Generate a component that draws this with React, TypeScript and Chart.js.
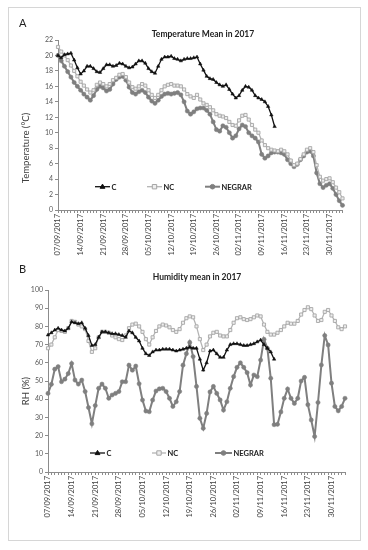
import React, { useEffect, useRef } from "react";
import { Chart, registerables } from "chart.js";
Chart.register(...registerables);

const dates: string[] = [
  "07/09/2017","08/09/2017","09/09/2017","10/09/2017","11/09/2017","12/09/2017","13/09/2017","14/09/2017","15/09/2017","16/09/2017","17/09/2017","18/09/2017","19/09/2017","20/09/2017","21/09/2017","22/09/2017","23/09/2017","24/09/2017","25/09/2017","26/09/2017","27/09/2017","28/09/2017","29/09/2017","30/09/2017",
  "01/10/2017","02/10/2017","03/10/2017","04/10/2017","05/10/2017","06/10/2017","07/10/2017","08/10/2017","09/10/2017","10/10/2017","11/10/2017","12/10/2017","13/10/2017","14/10/2017","15/10/2017","16/10/2017","17/10/2017","18/10/2017","19/10/2017","20/10/2017","21/10/2017","22/10/2017","23/10/2017","24/10/2017","25/10/2017","26/10/2017","27/10/2017","28/10/2017","29/10/2017","30/10/2017","31/10/2017",
  "01/11/2017","02/11/2017","03/11/2017","04/11/2017","05/11/2017","06/11/2017","07/11/2017","08/11/2017","09/11/2017","10/11/2017","11/11/2017","12/11/2017","13/11/2017","14/11/2017","15/11/2017","16/11/2017","17/11/2017","18/11/2017","19/11/2017","20/11/2017","21/11/2017","22/11/2017","23/11/2017","24/11/2017","25/11/2017","26/11/2017","27/11/2017","28/11/2017","29/11/2017","30/11/2017",
  "01/12/2017","02/12/2017","03/12/2017","04/12/2017",
];

const tickLabels: string[] = [
  "07/09/2017","14/09/2017","21/09/2017","28/09/2017","05/10/2017","12/10/2017","19/10/2017",
  "26/10/2017","02/11/2017","09/11/2017","16/11/2017","23/11/2017","30/11/2017",
];

const seriesNames = ["C", "NC", "NEGRAR"];

const tempC: number[] = [
  20.0,19.7,20.1,20.2,20.3,19.4,18.4,17.6,18.0,18.6,18.6,18.3,17.9,17.8,18.3,18.8,18.8,18.6,18.7,19.0,
  18.9,18.6,18.4,18.5,18.9,19.3,19.3,19.0,18.3,17.9,17.7,18.6,19.5,19.8,19.8,19.9,19.6,19.5,19.3,19.5,
  19.6,19.6,19.7,19.8,18.9,18.1,17.3,17.0,16.9,16.5,16.2,16.0,16.2,15.6,15.0,14.5,14.8,15.5,16.0,15.9,
  15.5,14.8,14.5,14.3,14.0,13.4,12.3,10.8,
];
const tempNC: number[] = [
  21.1,20.5,20.0,19.4,18.7,18.0,17.3,16.6,16.1,15.6,15.2,15.5,16.2,16.5,16.3,16.0,16.3,16.8,17.1,17.5,
  17.6,17.2,16.5,15.9,15.7,16.0,16.3,16.1,15.5,14.9,14.5,14.9,15.5,16.0,16.2,16.3,16.1,16.1,16.0,15.6,
  15.0,14.7,14.5,14.9,14.3,13.8,13.6,13.3,12.9,12.4,12.2,12.1,11.9,11.4,11.0,10.9,11.6,12.2,12.3,11.7,
  11.0,10.4,10.0,9.0,8.4,8.0,7.8,7.7,7.6,7.8,7.6,7.2,6.4,5.8,6.0,6.6,7.2,7.8,8.0,7.5,
  5.8,4.3,3.8,4.0,4.1,3.6,2.9,2.3,1.5,
];
const tempNEGRAR: number[] = [
  20.0,19.3,18.6,17.9,17.2,16.5,16.0,15.5,15.0,14.6,14.2,14.8,15.6,16.0,15.8,15.4,15.6,16.3,16.9,17.2,
  17.3,16.8,15.9,15.2,15.0,15.3,15.5,15.2,14.6,14.1,13.8,14.2,14.7,15.0,15.1,15.0,15.1,15.2,14.9,14.0,
  12.8,12.4,12.7,13.1,13.2,13.2,12.9,12.4,11.4,10.4,10.2,10.9,10.7,10.0,9.3,9.6,10.5,11.0,10.8,10.0,
  9.6,9.3,8.8,7.2,6.7,7.0,7.4,7.5,7.5,7.4,7.2,6.5,6.0,5.6,5.9,6.5,7.0,7.5,7.6,7.0,
  4.8,3.4,2.9,3.2,3.4,2.8,2.0,1.2,0.6,
];

const rhC: number[] = [
  75.3,76.5,78,79,78,77.5,79,82.5,82,81.5,82,79,75,69.5,70,74,77,77,76.5,76,
  76,75.5,75,74,77.5,76.5,74,72,68,65,64,66,67,67,67.5,67.5,67.5,67,66.5,67,
  67.5,68,68.5,68,68,62,56,60,66.5,67,65,63,63,67,70,70.5,70.5,70,69.5,69.5,
  70,70.5,71.5,72.5,70,68,66,62,
];
const rhNC: number[] = [
  68,70,74,78,77.5,77,79,83,82.5,81,80,78.5,72,66,68,74,77,77,76.5,75,
  74,73,72.5,75,79,81,81.5,80,77,73,70,74,77.5,80,81,80.5,79.5,78,77,78.5,
  82,84.5,85.5,85,80,73,67,70,74.5,76.5,77,75,74.5,74.5,78,82,84.5,85,84,83.5,
  84,85,86,85.5,81,77,75.5,75.5,76.5,78,80,82,81.5,81.5,83,86.5,89,90.5,89.5,86,
  83,83.5,88,89,86,83,79.5,78.5,80,
];
const rhNEGRAR: number[] = [
  43.2,48.2,56.5,57.9,49.6,51,54.1,59.6,50.5,48.3,50.5,44.2,35.4,26.5,36.5,46,48.3,46,40.5,42.3,
  43.2,44.2,49.6,49.6,58.7,55.9,58.2,48.5,39.5,33.5,33.1,39.5,44.5,45.7,46,44.2,40.5,36,38.6,44.2,
  58.7,65,71.2,63.4,47,29.5,24,32.2,44,47,43.2,39.6,34,38.6,46,52.4,57.5,60,57.5,54.6,
  47.8,53.3,52.4,61.5,72.9,68,51.5,26,26.2,33,40.5,45.6,40.5,37.7,40.5,50,52,37,28.6,19.5,
  38.2,58.8,75,69.8,48.8,36,33.6,36,40.5,
];

const FONT = "Lato, 'Liberation Sans', Arial, sans-serif";

const legendPlugin = {
  id: "inlineLegend",
  afterDraw(chart: any, _args: any, opts: any) {
    const ctx = chart.ctx as CanvasRenderingContext2D;
    const items = opts.items || [];
    ctx.save();
    items.forEach((it: any) => {
      const ds = chart.data.datasets[it.index];
      ctx.strokeStyle = ds.borderColor;
      ctx.lineWidth = ds.borderWidth;
      ctx.beginPath();
      ctx.moveTo(it.x, opts.y);
      ctx.lineTo(it.x + it.w, opts.y);
      ctx.stroke();
      const cx = it.x + it.w / 2;
      const cy = opts.y;
      ctx.fillStyle = ds.pointBackgroundColor;
      ctx.strokeStyle = ds.pointBorderColor;
      ctx.lineWidth = 1;
      ctx.beginPath();
      if (ds.pointStyle === "triangle") {
        ctx.moveTo(cx, cy - 2.6);
        ctx.lineTo(cx + 2.4, cy + 1.6);
        ctx.lineTo(cx - 2.4, cy + 1.6);
        ctx.closePath();
      } else if (ds.pointStyle === "rect") {
        ctx.rect(cx - 2.2, cy - 2.2, 4.4, 4.4);
      } else {
        ctx.arc(cx, cy, 2.3, 0, Math.PI * 2);
      }
      ctx.fill();
      ctx.stroke();
      ctx.fillStyle = "#222";
      ctx.font = `bold 7.5px ${FONT}`;
      ctx.textBaseline = "middle";
      ctx.textAlign = "left";
      ctx.fillText(ds.label, it.x + it.w + 1.5, cy + 0.5);
    });
    ctx.restore();
  },
};

function makeDatasets(c: number[], nc: number[], ng: number[]) {
  return [
    {
      label: seriesNames[0],
      data: c,
      borderColor: "#111111",
      borderWidth: 1.3,
      pointStyle: "triangle",
      pointRadius: 2,
      pointBackgroundColor: "#111111",
      pointBorderColor: "#111111",
      pointBorderWidth: 0.5,
      tension: 0,
    },
    {
      label: seriesNames[1],
      data: nc,
      borderColor: "#b4b4b4",
      borderWidth: 1.3,
      pointStyle: "rect",
      pointRadius: 2.2,
      pointBackgroundColor: "#eeeeee",
      pointBorderColor: "#a6a6a6",
      pointBorderWidth: 0.9,
      tension: 0,
    },
    {
      label: seriesNames[2],
      data: ng,
      borderColor: "#7f7f7f",
      borderWidth: 2,
      pointStyle: "circle",
      pointRadius: 2.1,
      pointBackgroundColor: "#7f7f7f",
      pointBorderColor: "#7f7f7f",
      pointBorderWidth: 0.5,
      tension: 0,
    },
  ];
}

function makeConfig(p: {
  datasets: any[];
  yMax: number;
  yStep: number;
  yWidth: number;
  xHeight: number;
  padding: any;
  legendY: number;
  legendItems: any[];
}): any {
  return {
    type: "line",
    data: { labels: dates, datasets: p.datasets },
    plugins: [legendPlugin],
    options: {
      responsive: false,
      animation: false,
      devicePixelRatio: 1,
      layout: { padding: p.padding },
      plugins: {
        legend: { display: false },
        title: { display: false },
        tooltip: { enabled: false },
        inlineLegend: { y: p.legendY, items: p.legendItems },
      },
      scales: {
        x: {
          type: "category",
          offset: false,
          grid: {
            drawOnChartArea: false,
            drawTicks: true,
            tickLength: 3,
            color: "#8c8c8c",
          },
          border: { display: true, color: "#8c8c8c", width: 1 },
          ticks: {
            autoSkip: false,
            minRotation: 90,
            maxRotation: 90,
            padding: 1,
            color: "#404040",
            font: { family: FONT, size: 7.5 },
            callback: (_v: any, i: number) =>
              tickLabels.includes(dates[i]) ? dates[i] : "",
          },
          afterFit: (s: any) => {
            s.height = p.xHeight;
          },
        },
        y: {
          min: 0,
          max: p.yMax,
          grid: {
            drawOnChartArea: false,
            drawTicks: true,
            tickLength: 3,
            color: "#8c8c8c",
          },
          border: { display: true, color: "#8c8c8c", width: 1 },
          ticks: {
            stepSize: p.yStep,
            padding: 2,
            color: "#595959",
            font: { family: FONT, size: 7 },
          },
          afterFit: (s: any) => {
            s.width = p.yWidth;
          },
        },
      },
    },
  };
}

function ChartBox(props: { config: any; left: number; top: number; width: number; height: number }) {
  const ref = useRef<HTMLCanvasElement>(null);
  useEffect(() => {
    const chart = new Chart(ref.current as HTMLCanvasElement, props.config);
    return () => chart.destroy();
  }, []);
  return (
    <canvas
      ref={ref}
      width={props.width}
      height={props.height}
      style={{ position: "absolute", left: props.left, top: props.top, width: props.width, height: props.height }}
    />
  );
}

const textBase: React.CSSProperties = {
  position: "absolute",
  fontFamily: FONT,
  whiteSpace: "nowrap",
  color: "#222",
};

export default function App() {
  const configA = makeConfig({
    datasets: makeDatasets(tempC, tempNC, tempNEGRAR),
    yMax: 22,
    yStep: 2,
    yWidth: 48,
    xHeight: 60,
    padding: { top: 30, right: 12.5, left: 0, bottom: 0 },
    legendY: 176.7,
    legendItems: [
      { index: 0, x: 85, w: 15 },
      { index: 1, x: 137, w: 15 },
      { index: 2, x: 195, w: 15 },
    ],
  });
  const configB = makeConfig({
    datasets: makeDatasets(rhC, rhNC, rhNEGRAR),
    yMax: 100,
    yStep: 10,
    yWidth: 38,
    xHeight: 68,
    padding: { top: 20, right: 7.3, left: 0, bottom: 0 },
    legendY: 183,
    legendItems: [
      { index: 0, x: 80, w: 15 },
      { index: 1, x: 142, w: 14 },
      { index: 2, x: 205, w: 17 },
    ],
  });
  return (
    <div style={{ position: "absolute", left: 0, top: 0, width: 368, height: 550, background: "#fff", overflow: "hidden" }}>
      <div
        style={{
          position: "absolute",
          left: 8,
          top: 7,
          width: 353,
          height: 534,
          border: "1px solid #d6d6d6",
          boxSizing: "border-box",
        }}
      />
      <ChartBox config={configA} left={10} top={10} width={345} height={260} />
      <ChartBox config={configB} left={10} top={270} width={345} height={270} />
      <div style={{ ...textBase, left: 19, top: 17, fontSize: 11, lineHeight: "12px" }}>A</div>
      <div style={{ ...textBase, left: 19, top: 263, fontSize: 11, lineHeight: "12px" }}>B</div>
      <div
        style={{
          ...textBase,
          left: 203,
          top: 34,
          transform: "translate(-50%, -50%)",
          fontSize: 8.5,
          fontWeight: 700,
        }}
      >
        Temperature Mean in 2017
      </div>
      <div
        style={{
          ...textBase,
          left: 197,
          top: 277,
          transform: "translate(-50%, -50%)",
          fontSize: 8.5,
          fontWeight: 700,
        }}
      >
        Humidity mean in 2017
      </div>
      <div
        style={{
          ...textBase,
          left: 25,
          top: 148,
          transform: "translate(-50%, -50%) rotate(-90deg)",
          fontSize: 9.5,
          color: "#404040",
        }}
      >
        Temperature (°C)
      </div>
      <div
        style={{
          ...textBase,
          left: 25,
          top: 391,
          transform: "translate(-50%, -50%) rotate(-90deg)",
          fontSize: 9.5,
          color: "#404040",
        }}
      >
        RH (%)
      </div>
    </div>
  );
}
